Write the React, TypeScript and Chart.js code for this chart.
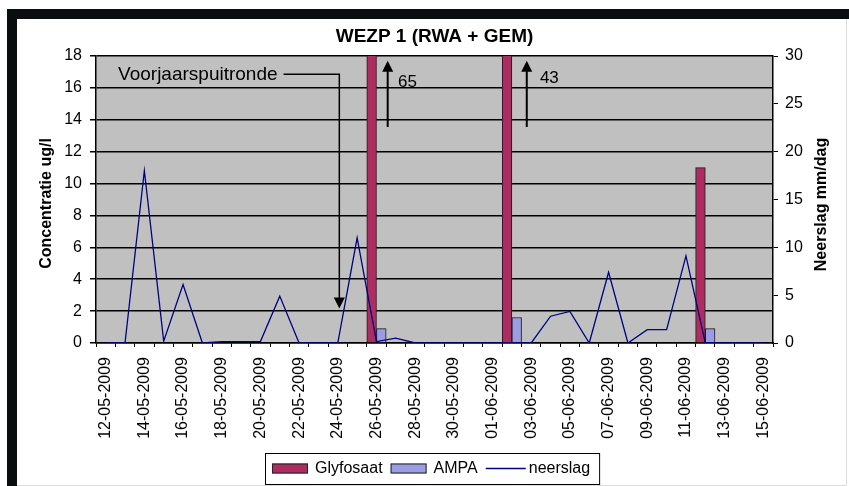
import React, { useEffect, useRef } from 'react';
import { Chart, registerables } from 'chart.js';

Chart.register(...registerables);

const FONT = '"Liberation Sans", Arial, Helvetica, sans-serif';

const dates = [
  '12-05-2009', '13-05-2009', '14-05-2009', '15-05-2009', '16-05-2009', '17-05-2009', '18-05-2009',
  '19-05-2009', '20-05-2009', '21-05-2009', '22-05-2009', '23-05-2009', '24-05-2009', '25-05-2009',
  '26-05-2009', '27-05-2009', '28-05-2009', '29-05-2009', '30-05-2009', '31-05-2009', '01-06-2009',
  '02-06-2009', '03-06-2009', '04-06-2009', '05-06-2009', '06-06-2009', '07-06-2009', '08-06-2009',
  '09-06-2009', '10-06-2009', '11-06-2009', '12-06-2009', '13-06-2009', '14-06-2009', '15-06-2009',
];

const glyfosaat = [
  null, null, null, null, null, null, null, null, null, null, null, null, null, null,
  65, null, null, null, null, null, null,
  43, null, null, null, null, null, null, null, null, null,
  11, null, null, null,
];

const ampa = [
  null, null, null, null, null, null, null, null, null, null, null, null, null, null,
  0.9, null, null, null, null, null, null,
  1.6, null, null, null, null, null, null, null, null, null,
  0.9, null, null, null,
];

const neerslag = [
  0, 0, 18, 0.2, 6.1, 0, 0.15, 0.15, 0.15, 4.9,
  0, 0, 0, 11, 0.15, 0.5, 0, 0, 0, 0,
  0, 0, 0, 2.8, 3.3, 0, 7.4, 0, 1.4, 1.4,
  9.1, 0, 0, 0, 0,
];

// annotation anchors in data units (category index, concentration)
const sprayNote = { text: 'Voorjaarspuitronde', textAt: 0.64, level: 16.85, arrowAt: 12.08, tip: 2.17 };
const offScaleNotes = [
  { text: '65', arrowAt: 14.58, from: 13.55, tip: 17.7, textAt: 15.11, textLevel: 16.36 },
  { text: '43', arrowAt: 21.77, from: 13.55, tip: 17.7, textAt: 22.45, textLevel: 16.58 },
];

const GLY_COLOR = '#AD2D60';
const AMPA_COLOR = '#9C9CE4';
const LINE_COLOR = '#000080';

const decorPlugin = {
  id: 'decor',
  beforeDraw(chart: any) {
    const { ctx, chartArea: a } = chart;
    ctx.save();
    ctx.fillStyle = '#C0C0C0';
    ctx.fillRect(a.left, a.top, a.right - a.left, a.bottom - a.top);
    ctx.restore();
  },
  afterDatasetsDraw(chart: any) {
    const { ctx } = chart;
    const xs = chart.scales.x;
    const ys = chart.scales.y;
    ctx.save();
    ctx.fillStyle = '#000';
    ctx.strokeStyle = '#000';

    const head = (x: number, tipY: number, dir: number) => {
      ctx.beginPath();
      ctx.moveTo(x, tipY);
      ctx.lineTo(x - 5.5, tipY - dir * 11);
      ctx.lineTo(x + 5.5, tipY - dir * 11);
      ctx.closePath();
      ctx.fill();
    };

    // Voorjaarspuitronde leader
    ctx.font = `19px ${FONT}`;
    ctx.textAlign = 'left';
    ctx.textBaseline = 'middle';
    const tx = xs.getPixelForValue(sprayNote.textAt);
    const ty = ys.getPixelForValue(sprayNote.level);
    ctx.fillText(sprayNote.text, tx, ty);
    const tw = ctx.measureText(sprayNote.text).width;
    const ax = xs.getPixelForValue(sprayNote.arrowAt);
    const tipY = ys.getPixelForValue(sprayNote.tip);
    ctx.lineWidth = 1.5;
    ctx.beginPath();
    ctx.moveTo(tx + tw + 6, ty);
    ctx.lineTo(ax, ty);
    ctx.lineTo(ax, tipY - 8);
    ctx.stroke();
    head(ax, tipY, 1);

    // off-scale arrows
    ctx.font = `17px ${FONT}`;
    offScaleNotes.forEach((n) => {
      const x = xs.getPixelForValue(n.arrowAt);
      const y0 = ys.getPixelForValue(n.from);
      const y1 = ys.getPixelForValue(n.tip);
      ctx.lineWidth = 2;
      ctx.beginPath();
      ctx.moveTo(x, y0);
      ctx.lineTo(x, y1 + 8);
      ctx.stroke();
      head(x, y1, -1);
      ctx.fillText(n.text, xs.getPixelForValue(n.textAt), ys.getPixelForValue(n.textLevel));
    });
    ctx.restore();
  },
  afterDraw(chart: any) {
    const { ctx, chartArea: a } = chart;
    ctx.save();
    // axis titles
    ctx.fillStyle = '#000';
    ctx.font = `bold 16px ${FONT}`;
    ctx.textAlign = 'center';
    ctx.textBaseline = 'middle';
    const midY = (a.top + a.bottom) / 2 + 4;
    ctx.save();
    ctx.translate(47, midY);
    ctx.rotate(-Math.PI / 2);
    ctx.fillText('Concentratie ug/l', 0, 0);
    ctx.restore();
    ctx.save();
    ctx.translate(822, midY + 1);
    ctx.rotate(-Math.PI / 2);
    ctx.fillText('Neerslag mm/dag', 0, 0);
    ctx.restore();

    // legend
    const ds = chart.data.datasets;
    const items = [ds[1], ds[2], ds[0]];
    ctx.font = `16px ${FONT}`;
    const sw = 36;
    const gapText = 7;
    const gapItem = 8;
    const padL = 7;
    const padR = 9;
    let total = padL + padR;
    const widths = items.map((d: any) => ctx.measureText(d.label).width);
    items.forEach((_: any, i: number) => {
      total += sw + gapText + widths[i] + (i < items.length - 1 ? gapItem : 0);
    });
    const boxH = 31;
    const boxTop = chart.height - 2 - boxH;
    const boxLeft = Math.round((a.left + a.right) / 2 - 2 - total / 2);
    ctx.strokeStyle = '#000';
    ctx.lineWidth = 1;
    ctx.strokeRect(boxLeft + 0.5, boxTop + 0.5, total, boxH);
    const cy = boxTop + boxH / 2;
    let x = boxLeft + padL;
    items.forEach((d: any, i: number) => {
      if (d.type === 'line') {
        ctx.strokeStyle = d.borderColor;
        ctx.lineWidth = 1.5;
        ctx.beginPath();
        ctx.moveTo(x, cy);
        ctx.lineTo(x + sw + 4, cy);
        ctx.stroke();
      } else {
        ctx.fillStyle = d.backgroundColor;
        ctx.fillRect(x, cy - 5, sw, 10);
        ctx.strokeStyle = '#222';
        ctx.lineWidth = 1;
        ctx.strokeRect(x + 0.5, cy - 4.5, sw - 1, 9);
      }
      ctx.fillStyle = '#000';
      ctx.textAlign = 'left';
      ctx.textBaseline = 'middle';
      ctx.fillText(d.label, x + sw + gapText, cy);
      x += sw + gapText + widths[i] + gapItem;
    });
    ctx.restore();
  },
};

export default function App() {
  const ref = useRef<HTMLCanvasElement | null>(null);

  useEffect(() => {
    if (!ref.current) return;
    const tickFont = { family: FONT, size: 16 };
    const chart = new Chart(ref.current, {
      data: {
        labels: dates,
        datasets: [
          {
            type: 'line',
            label: 'neerslag',
            data: neerslag,
            yAxisID: 'y1',
            borderColor: LINE_COLOR,
            backgroundColor: LINE_COLOR,
            borderWidth: 1.3,
            pointRadius: 0,
            tension: 0,
            order: 0,
          },
          {
            type: 'bar',
            label: 'Glyfosaat',
            data: glyfosaat,
            yAxisID: 'y',
            backgroundColor: GLY_COLOR,
            borderColor: '#1a1a1a',
            borderWidth: 1,
            categoryPercentage: 1,
            barPercentage: 1,
            order: 1,
          },
          {
            type: 'bar',
            label: 'AMPA',
            data: ampa,
            yAxisID: 'y',
            backgroundColor: AMPA_COLOR,
            borderColor: '#1a1a1a',
            borderWidth: 1,
            categoryPercentage: 1,
            barPercentage: 1,
            order: 1,
          },
        ],
      } as any,
      options: {
        animation: false,
        responsive: false,
        maintainAspectRatio: false,
        layout: { padding: 0 },
        plugins: {
          legend: { display: false },
          tooltip: { enabled: false },
          title: {
            display: true,
            text: 'WEZP 1 (RWA + GEM)',
            fullSize: false,
            color: '#000',
            font: { family: FONT, size: 19, weight: 'bold', lineHeight: 1.2 },
            padding: { top: 25.6, bottom: 7.6 },
          },
        },
        scales: {
          x: {
            type: 'category',
            offset: true,
            grid: { offset: true, drawOnChartArea: false, color: '#000', tickLength: 4, lineWidth: 1 },
            border: { color: '#000', width: 1.5 },
            ticks: {
              autoSkip: false,
              maxRotation: 90,
              minRotation: 90,
              padding: 10,
              color: '#000',
              font: tickFont,
              callback: (_v: any, i: number) => (i % 2 === 0 ? dates[i] : ''),
            },
            afterFit: (s: any) => { s.height = 143; },
          },
          y: {
            position: 'left',
            min: 0,
            max: 18,
            ticks: { stepSize: 2, padding: 8, color: '#000', font: tickFont },
            grid: { color: '#000', lineWidth: 1.5, tickLength: 6 },
            border: { color: '#000', width: 1.5 },
            afterFit: (s: any) => { s.width = 96; },
          },
          y1: {
            position: 'right',
            min: 0,
            max: 30,
            ticks: { stepSize: 5, padding: 7, color: '#000', font: tickFont },
            grid: { drawOnChartArea: false, color: '#000', tickLength: 5 },
            border: { color: '#000', width: 1.5 },
            afterFit: (s: any) => { s.width = 76; },
          },
        },
      } as any,
      plugins: [decorPlugin],
    });
    return () => chart.destroy();
  }, []);

  return (
    <div style={{ position: 'fixed', left: 0, top: 0, width: 849, height: 486, background: '#fff', overflow: 'hidden' }}>
      <canvas ref={ref} width={849} height={486} style={{ position: 'absolute', left: 0, top: 0, width: 849, height: 486 }} />
      <div style={{ position: 'absolute', left: 7, top: 9, width: 842, height: 10, background: '#0a0d0d' }} />
      <div style={{ position: 'absolute', left: 7, top: 9, width: 10, height: 477, background: '#0a0d0d' }} />
      <div style={{ position: 'absolute', left: 846, top: 19, width: 1, height: 466, background: '#dcdcdc' }} />
      <div style={{ position: 'absolute', left: 17, top: 485, width: 829, height: 1, background: '#dcdcdc' }} />
    </div>
  );
}
